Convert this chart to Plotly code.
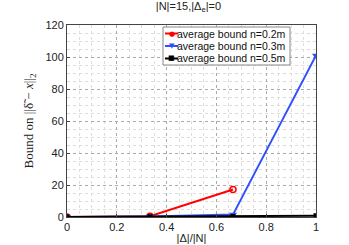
import plotly.graph_objects as go

x_vals = [0, 1/3, 2/3, 1]
red_x = [0, 1/3, 2/3]
red_y = [0, 0.5, 17.2]
blue_y = [0, 0.3, 1.5, 101]
black_y = [0, 0.2, 0.3, 0.8]
names = ["average bound n=0.2m", "average bound n=0.3m", "average bound n=0.5m"]
colors = ["#ff0000", "#3050ff", "#000000"]
glyphs = ["●", "▼", "■"]

fig = go.Figure()
fig.add_trace(go.Scatter(x=red_x, y=red_y, mode="lines+markers", name=names[0],
                         line=dict(color=colors[0], width=2),
                         marker=dict(symbol="circle-open", size=6, color=colors[0], line=dict(width=1.5))))
fig.add_trace(go.Scatter(x=x_vals, y=blue_y, mode="lines+markers", name=names[1],
                         line=dict(color=colors[1], width=2),
                         marker=dict(symbol="triangle-down", size=7, color=colors[1])))
fig.add_trace(go.Scatter(x=x_vals, y=black_y, mode="lines+markers", name=names[2],
                         line=dict(color=colors[2], width=2),
                         marker=dict(symbol="square", size=5, color=colors[2])))

axis_common = dict(showline=True, linecolor="#444", linewidth=1, mirror=True,
                   ticks="inside", ticklen=3, tickcolor="#444", automargin=False,
                   showgrid=True, gridcolor="#aaa", griddash="dot", gridwidth=1,
                   zeroline=False, tickfont=dict(family="Liberation Sans, Arial", size=11, color="#222"),
                   minor=dict(showgrid=True, gridcolor="#ddd", griddash="dot", gridwidth=1))

W, H = 349, 245
ml, mr, mt, mb = 67, 33, 25, 28
pw, ph = W - ml - mr, H - mt - mb

def px2paper(xp, yp):
    return (xp - ml) / pw, 1 - (yp - mt) / ph

# custom legend (MATLAB-like compact box)
shapes = []
annotations = []
bx0, by0 = px2paper(163, 27)
bx1, by1 = px2paper(290, 65)
shapes.append(dict(type="rect", xref="paper", yref="paper", x0=bx0, y0=by1, x1=bx1, y1=by0,
                   line=dict(color="#888", width=1), fillcolor="white", layer="above"))
rows_y = [33.5, 46, 58.5]
for name, col, g, ry in zip(names, colors, glyphs, rows_y):
    lx0, ly = px2paper(165, ry)
    lx1, _ = px2paper(178, ry)
    shapes.append(dict(type="line", xref="paper", yref="paper", x0=lx0, x1=lx1, y0=ly, y1=ly,
                       line=dict(color=col, width=2), layer="above"))
    mx, _ = px2paper(171.5, ry)
    annotations.append(dict(x=mx, y=ly, xref="paper", yref="paper", text=g, showarrow=False,
                            xanchor="center", yanchor="middle",
                            font=dict(family="DejaVu Sans", size=7, color=col)))
    tx, _ = px2paper(178, ry)
    annotations.append(dict(x=tx, y=ly, xref="paper", yref="paper", text=name, showarrow=False,
                            xanchor="left", yanchor="middle", xshift=-3,
                            font=dict(family="Liberation Sans, Arial", size=10.5, color="#111")))

fig.update_layout(
    width=W, height=H,
    margin=dict(l=ml, r=mr, t=mt, b=mb),
    paper_bgcolor="white", plot_bgcolor="white",
    title=dict(text="|N|=15,|Δ<sub>e</sub>|=0", x=0.54, xanchor="center", y=0.99, yanchor="top",
               font=dict(family="Liberation Sans, Arial", size=11, color="#222")),
    xaxis=dict(range=[0, 1], tickvals=[0, 0.2, 0.4, 0.6, 0.8, 1],
               ticktext=["0", "0.2", "0.4", "0.6", "0.8", "1"],
               title=dict(text="|Δ|/|N|", standoff=2, font=dict(family="Liberation Sans, Arial", size=11, color="#222")),
               **axis_common),
    yaxis=dict(range=[0, 120], dtick=20,
               title=dict(text="Bound on ||δ̃ − <i>x</i>||<sub>2</sub>", standoff=8,
                          font=dict(family="Liberation Serif, Times New Roman", size=13, color="#222")),
               **axis_common),
    showlegend=False,
    shapes=shapes,
    annotations=annotations,
)
fig.update_xaxes(minor=dict(dtick=0.05))
fig.update_yaxes(minor=dict(dtick=5))

fig.write_html("out.html", config={"displayModeBar": False},
               post_script="document.body.style.margin='0';document.body.style.overflow='hidden';")
